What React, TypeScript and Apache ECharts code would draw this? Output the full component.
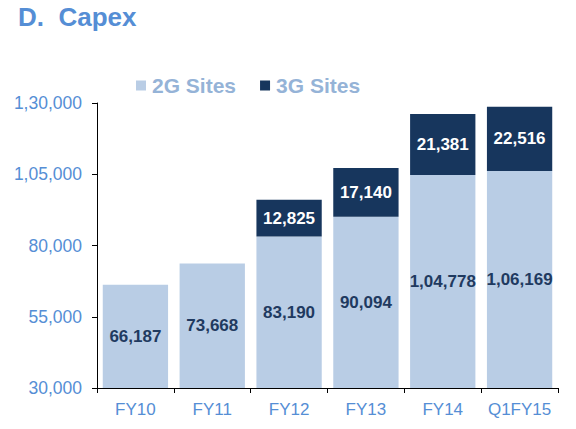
import React, { useEffect, useRef } from "react";
import * as echarts from "echarts";

const categories = ["FY10", "FY11", "FY12", "FY13", "FY14", "Q1FY15"];
const sites2G = [66187, 73668, 83190, 90094, 104778, 106169];
const sites3G: (number | null)[] = [null, null, 12825, 17140, 21381, 22516];
const yTicks = [30000, 55000, 80000, 105000, 130000];
const seriesNames = ["2G Sites", "3G Sites"];
const titleText = "D.  Capex";

function inr(n: number): string {
  const s = String(Math.round(n));
  if (s.length <= 3) return s;
  const last3 = s.slice(-3);
  const rest = s.slice(0, -3).replace(/\B(?=(\d{2})+(?!\d))/g, ",");
  return rest + "," + last3;
}

const FONT = "'Liberation Sans', Arial, sans-serif";
const AXIS_BLUE = "#558ED5";

export default function App() {
  const ref = useRef<HTMLDivElement>(null);
  useEffect(() => {
    if (!ref.current) return;
    const chart = echarts.init(ref.current, null, { renderer: "svg" });
    chart.setOption({
      animation: false,
      backgroundColor: "#ffffff",
      title: {
        text: titleText,
        left: 18,
        top: 4,
        padding: 0,
        textStyle: { color: AXIS_BLUE, fontSize: 26, fontWeight: "bold", fontFamily: FONT },
      },
      legend: {
        left: 136,
        top: 75,
        padding: 0,
        itemWidth: 10,
        itemHeight: 10,
        itemGap: 24,
        icon: "rect",
        data: seriesNames,
        textStyle: { color: "#95B3D7", fontSize: 21, fontWeight: "bold", fontFamily: FONT, padding: [0, 0, 0, 1] },
      },
      grid: { left: 97, right: 18, top: 103, bottom: 41, containLabel: false },
      xAxis: {
        type: "category",
        data: categories,
        axisLine: { lineStyle: { color: "#000000", width: 1 } },
        axisTick: { show: true, length: 5, alignWithLabel: false, interval: 0, lineStyle: { color: "#000000" } },
        axisLabel: { color: AXIS_BLUE, fontSize: 17, fontFamily: FONT, margin: 13, interval: 0 },
      },
      yAxis: {
        type: "value",
        min: yTicks[0],
        max: yTicks[yTicks.length - 1],
        interval: yTicks[1] - yTicks[0],
        splitLine: { show: false },
        axisLine: { show: true, lineStyle: { color: "#000000", width: 1 } },
        axisTick: { show: true, length: 5, lineStyle: { color: "#000000" } },
        axisLabel: {
          color: AXIS_BLUE,
          fontSize: 17.5,
          fontFamily: FONT,
          margin: 15,
          formatter: (v: number) => inr(v),
        },
      },
      series: [
        {
          name: seriesNames[0],
          type: "bar",
          stack: "total",
          data: sites2G,
          barCategoryGap: "15%",
          itemStyle: { color: "#B9CDE5" },
          label: {
            show: true,
            position: "inside",
            color: "#1F3A60",
            fontSize: 17,
            fontWeight: "bold",
            fontFamily: FONT,
            formatter: (p: any) => inr(p.value),
          },
        },
        {
          name: seriesNames[1],
          type: "bar",
          stack: "total",
          data: sites3G,
          barCategoryGap: "15%",
          itemStyle: { color: "#17365D" },
          label: {
            show: true,
            position: "inside",
            color: "#ffffff",
            fontSize: 17,
            fontWeight: "bold",
            fontFamily: FONT,
            formatter: (p: any) => (p.value == null ? "" : inr(p.value)),
          },
        },
      ],
    });
    return () => chart.dispose();
  }, []);
  return (
    <div
      ref={ref}
      style={{ position: "fixed", left: 0, top: 0, width: 576, height: 429, background: "#fff" }}
    />
  );
}
